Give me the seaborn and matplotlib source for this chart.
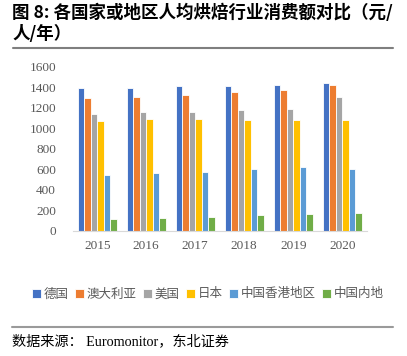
import matplotlib
matplotlib.use("Agg")
import matplotlib.pyplot as plt
import seaborn as sns
import pandas as pd
import numpy as np

years = ["2015", "2016", "2017", "2018", "2019", "2020"]
regions = ["德国", "澳大利亚", "美国", "日本", "中国香港地区", "中国内地"]
germany = [1395, 1392, 1409, 1410, 1418, 1441]
australia = [1292, 1304, 1327, 1350, 1370, 1421]
usa = [1141, 1161, 1155, 1175, 1184, 1307]
japan = [1073, 1090, 1093, 1080, 1077, 1080]
hongkong = [540, 560, 576, 602, 621, 599]
mainland = [111, 124, 137, 153, 163, 170]
colors = ["#4472C4", "#ED7D31", "#A5A5A5", "#FFC000", "#5B9BD5", "#70AD47"]
yticks = [0, 200, 400, 600, 800, 1000, 1200, 1400, 1600]

series = [germany, australia, usa, japan, hongkong, mainland]
rows = []
for r, vals in zip(regions, series):
    for y, v in zip(years, vals):
        rows.append({"year": y, "region": r, "value": v})
df = pd.DataFrame(rows)

sns.set_theme(style="white")
plt.rcParams["font.family"] = ["Noto Sans CJK SC", "DejaVu Sans"]

fig = plt.figure(figsize=(4.07, 3.56), dpi=100)
ax = fig.add_axes([72.7 / 407, 1 - 230.7 / 356, (366.7 - 72.7) / 407, (230.7 - 66.7) / 356])

sns.barplot(data=df, x="year", y="value", hue="region", order=years, hue_order=regions,
            palette=colors, saturation=1, width=0.8, edgecolor="white", linewidth=0.6,
            ax=ax, legend=True)

ax.set_ylim(0, 1600)
ax.set_xlim(-0.5, 5.5)
ax.set_yticks(yticks)
ax.set_yticklabels([str(t) for t in yticks], family=["Liberation Serif"], fontsize=9.5, color="#595959")
ax.set_xticks(range(len(years)))
ax.set_xticklabels(years, family=["Liberation Serif"], fontsize=9.5, color="#595959")
ax.tick_params(axis="x", which="major", length=0, pad=7)
ax.tick_params(axis="y", length=0, pad=12)
ax.set_xticks(np.arange(-0.5, 6.0, 1.0), minor=True)
ax.tick_params(axis="x", which="minor", length=4, color="#D9D9D9", width=0.8, direction="out")
ax.set_xlabel("")
ax.set_ylabel("")
for s in ["top", "right", "left"]:
    ax.spines[s].set_visible(False)
ax.spines["bottom"].set_color("#D9D9D9")
ax.spines["bottom"].set_linewidth(0.8)
ax.grid(False)

handles, labels = ax.get_legend_handles_labels()
ax.get_legend().remove()
leg = fig.legend(handles, labels, loc="center", bbox_to_anchor=(208 / 407, 1 - 294 / 356),
                 ncol=6, frameon=False, fontsize=9, handlelength=0.7, handleheight=0.7,
                 handletextpad=0.25, columnspacing=0.5, borderaxespad=0)
for t in leg.get_texts():
    t.set_color("#595959")

fig.text(12 / 407, 1 - 13 / 356, "图 8: 各国家或地区人均烘焙行业消费额对比（元/", fontsize=12.6,
         fontweight="bold", va="center", ha="left", color="#000000")
fig.text(12 / 407, 1 - 34 / 356, "人/年）", fontsize=12.6, fontweight="bold", va="center", ha="left",
         color="#000000")
fig.add_artist(plt.Line2D([13 / 407, 393 / 407], [1 - 47.5 / 356, 1 - 47.5 / 356],
                          color="#7F7F7F", linewidth=1.5, transform=fig.transFigure))
fig.add_artist(plt.Line2D([12 / 407, 393 / 407], [1 - 326.7 / 356, 1 - 326.7 / 356],
                          color="#9A9A9A", linewidth=1.5, transform=fig.transFigure))
fig.text(12 / 407, 1 - 341 / 356, "数据来源： Euromonitor，东北证券", fontsize=10.2,
         family=["Liberation Serif", "Noto Sans CJK SC"], va="center", ha="left", color="#000000")

fig.savefig("out.png", dpi=100)
